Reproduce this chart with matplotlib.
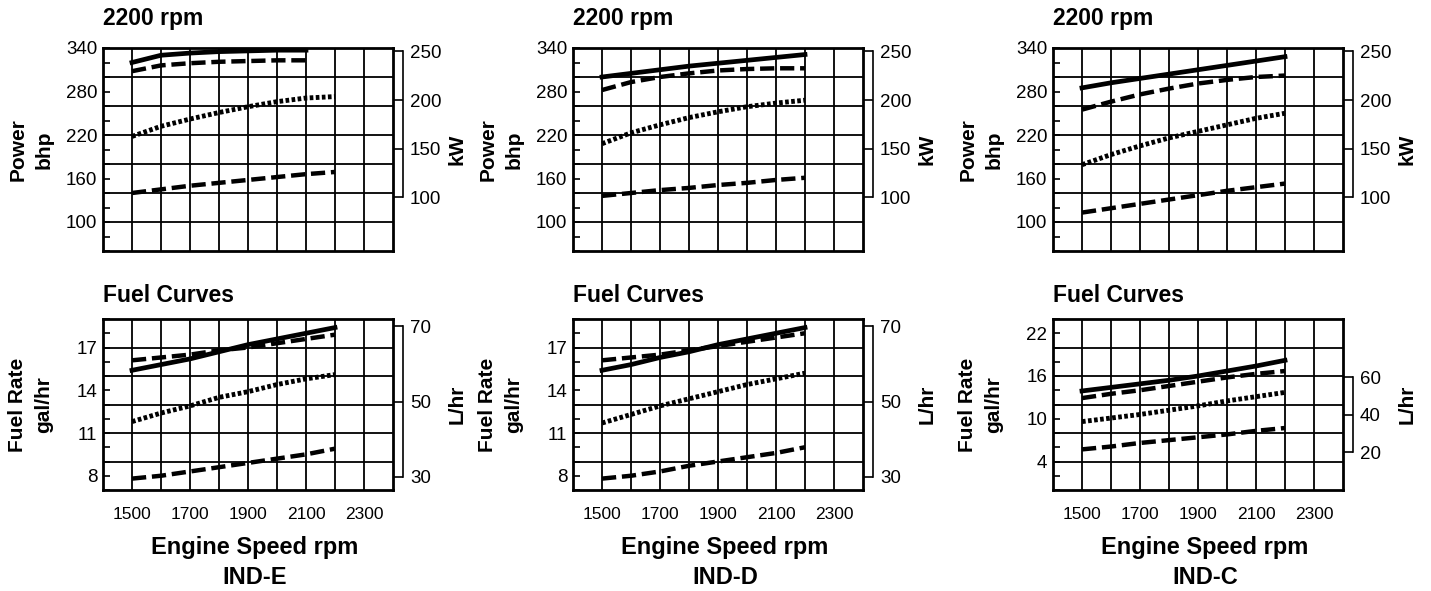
# engine performance curves: power and fuel rate vs engine speed
import numpy as np
import matplotlib.pyplot as plt

plt.rcParams['font.family'] = ['Liberation Sans', 'DejaVu Sans']

#==================================
#          data
#==================================
rpm = [1500, 1600, 1700, 1800, 1900, 2000, 2100, 2200]
engines = ['IND-E', 'IND-D', 'IND-C']

# power, bhp (solid, long dash, dotted, lower dash)
pwr_e_solid = [320, 330, 333, 335, 336, 337, 337, np.nan]
pwr_e_dash1 = [308, 316, 319, 321, 322, 323, 323, np.nan]
pwr_e_dot = [218, 232, 242, 251, 259, 266, 271, 273]
pwr_e_dash2 = [140, 145, 150, 154, 158, 162, 166, 169]

pwr_d_solid = [300, 305, 310, 315, 319, 323, 327, 331]
pwr_d_dash1 = [282, 293, 300, 305, 309, 311, 312, 312]
pwr_d_dot = [208, 223, 234, 244, 252, 259, 264, 268]
pwr_d_dash2 = [136, 140, 144, 147, 151, 154, 158, 161]

pwr_c_solid = [285, 292, 298, 304, 310, 316, 322, 328]
pwr_c_dash1 = [255, 266, 276, 284, 291, 296, 300, 302]
pwr_c_dot = [179, 193, 205, 216, 225, 234, 243, 250]
pwr_c_dash2 = [113, 119, 125, 131, 137, 143, 148, 153]

# fuel rate, gal/hr
fuel_e_solid = [15.4, 15.8, 16.2, 16.7, 17.2, 17.6, 18.0, 18.4]
fuel_e_dash1 = [16.1, 16.3, 16.5, 16.8, 17.0, 17.3, 17.6, 17.9]
fuel_e_dot = [11.8, 12.4, 12.9, 13.5, 13.9, 14.4, 14.8, 15.1]
fuel_e_dash2 = [7.8, 8.0, 8.3, 8.6, 8.9, 9.2, 9.5, 9.9]

fuel_d_solid = [15.4, 15.8, 16.3, 16.7, 17.2, 17.6, 18.0, 18.4]
fuel_d_dash1 = [16.1, 16.3, 16.5, 16.8, 17.1, 17.4, 17.7, 18.0]
fuel_d_dot = [11.7, 12.3, 12.9, 13.4, 13.9, 14.4, 14.8, 15.2]
fuel_d_dash2 = [7.8, 8.0, 8.3, 8.7, 9.0, 9.3, 9.6, 10.0]

fuel_c_solid = [13.9, 14.4, 14.9, 15.4, 16.0, 16.7, 17.4, 18.2]
fuel_c_dash1 = [12.9, 13.5, 14.0, 14.6, 15.2, 15.8, 16.3, 16.7]
fuel_c_dot = [9.6, 10.1, 10.6, 11.2, 11.8, 12.5, 13.1, 13.7]
fuel_c_dash2 = [5.7, 6.1, 6.6, 7.0, 7.4, 7.8, 8.3, 8.7]

power = [[pwr_e_solid, pwr_e_dash1, pwr_e_dot, pwr_e_dash2],
         [pwr_d_solid, pwr_d_dash1, pwr_d_dot, pwr_d_dash2],
         [pwr_c_solid, pwr_c_dash1, pwr_c_dot, pwr_c_dash2]]
fuel = [[fuel_e_solid, fuel_e_dash1, fuel_e_dot, fuel_e_dash2],
        [fuel_d_solid, fuel_d_dash1, fuel_d_dot, fuel_d_dash2],
        [fuel_c_solid, fuel_c_dash1, fuel_c_dot, fuel_c_dash2]]

BHP_TO_KW = 1 / 1.341
GAL_TO_L = 3.785

#==================================
#          styles
#==================================
line_styles = [dict(ls='-', lw=3.4),
               dict(ls=(0, (3.2, 1.3)), lw=3.2),
               dict(ls=(0, (0.75, 0.5)), lw=3.5),
               dict(ls=(0, (3.2, 1.3)), lw=3.2)]

W, H = 1431, 591
fig = plt.figure(figsize=(W / 100, H / 100), dpi=100)


def px_axes(l, t, r, b):
    return fig.add_axes([l / W, 1 - b / H, (r - l) / W, (b - t) / H])


def style(ax, ylim, ygrid, ylabels, yminor, show_x):
    ax.set_xlim(1400, 2400)
    ax.set_ylim(*ylim)
    for x in range(1500, 2400, 100):
        ax.axvline(x, color='black', lw=1.3, zorder=1)
    for y in ygrid:
        ax.axhline(y, color='black', lw=1.3, zorder=1)
    ax.set_yticks(ylabels)
    ax.set_yticks(yminor, minor=True)
    ax.tick_params(axis='y', which='both', direction='in', length=5,
                   width=1.2, labelsize=13.5, pad=4)
    ax.set_xticks([1500, 1700, 1900, 2100, 2300])
    ax.tick_params(axis='x', length=0, labelsize=12.5, pad=12,
                   labelbottom=show_x)
    for s in ax.spines.values():
        s.set_linewidth(2)


def right_axis(ax, factor, bounds, ticks, label):
    tw = ax.twinx()
    lo, hi = ax.get_ylim()
    tw.set_ylim(lo * factor, hi * factor)
    for s in ['top', 'bottom', 'left']:
        tw.spines[s].set_visible(False)
    tw.spines['right'].set_position(('outward', 7.2))
    tw.spines['right'].set_bounds(*bounds)
    tw.spines['right'].set_linewidth(1.2)
    tw.set_yticks(ticks)
    tw.tick_params(axis='y', direction='in', length=7.2, width=1.2,
                   labelsize=13.5, pad=5)
    tw.annotate(label, xy=(1, 0.5), xycoords='axes fraction',
                xytext=(46, 0), textcoords='offset points', rotation=90,
                ha='center', va='center', fontsize=15, fontweight='bold')


def left_label(ax, text):
    ax.annotate(text, xy=(0, 0.5), xycoords='axes fraction',
                xytext=(-52, 0), textcoords='offset points', rotation=90,
                ha='center', va='center', fontsize=15, fontweight='bold',
                linespacing=1.45)


def title(ax, text, dy):
    ax.annotate(text, xy=(0, 1), xycoords='axes fraction',
                xytext=(0, dy), textcoords='offset points',
                ha='left', va='center', fontsize=16.5, fontweight='bold')


def bottom_text(ax, text, dy):
    ax.annotate(text, xy=(0.5, 0), xycoords='axes fraction',
                xytext=(5, dy), textcoords='offset points',
                ha='center', va='center', fontsize=17, fontweight='bold')


#==================================
#          plot
#==================================
lefts = [103, 573, 1053]
for i in range(3):
    l = lefts[i]
    axp = px_axes(l, 48, l + 290, 251)
    style(axp, (60, 340), [100, 140, 180, 220, 260, 300],
          [100, 160, 220, 280, 340], range(60, 341, 20), False)
    for ys, st in zip(power[i], line_styles):
        axp.plot(rpm, ys, color='black', zorder=3, **st)
    right_axis(axp, BHP_TO_KW, (100, 250), [100, 150, 200, 250], 'kW')
    left_label(axp, 'Power\nbhp')
    title(axp, '2200 rpm', 21.5)

    axf = px_axes(l, 319, l + 290, 490)
    if i < 2:
        style(axf, (7, 19), [9, 11, 13, 15, 17], [8, 11, 14, 17],
              range(7, 20), True)
        right_axis(axf, GAL_TO_L, (30, 70), [30, 50, 70], 'L/hr')
    else:
        style(axf, (0, 24), [4, 8, 12, 16, 20], [4, 10, 16, 22],
              range(0, 25, 2), True)
        right_axis(axf, GAL_TO_L, (20, 60), [20, 40, 60], 'L/hr')
    for ys, st in zip(fuel[i], line_styles):
        axf.plot(rpm, ys, color='black', zorder=3, **st)
    left_label(axf, 'Fuel Rate\ngal/hr')
    title(axf, 'Fuel Curves', 17)
    bottom_text(axf, 'Engine Speed rpm', -41.5)
    bottom_text(axf, engines[i], -63)

fig.savefig('out.png', dpi=100)
